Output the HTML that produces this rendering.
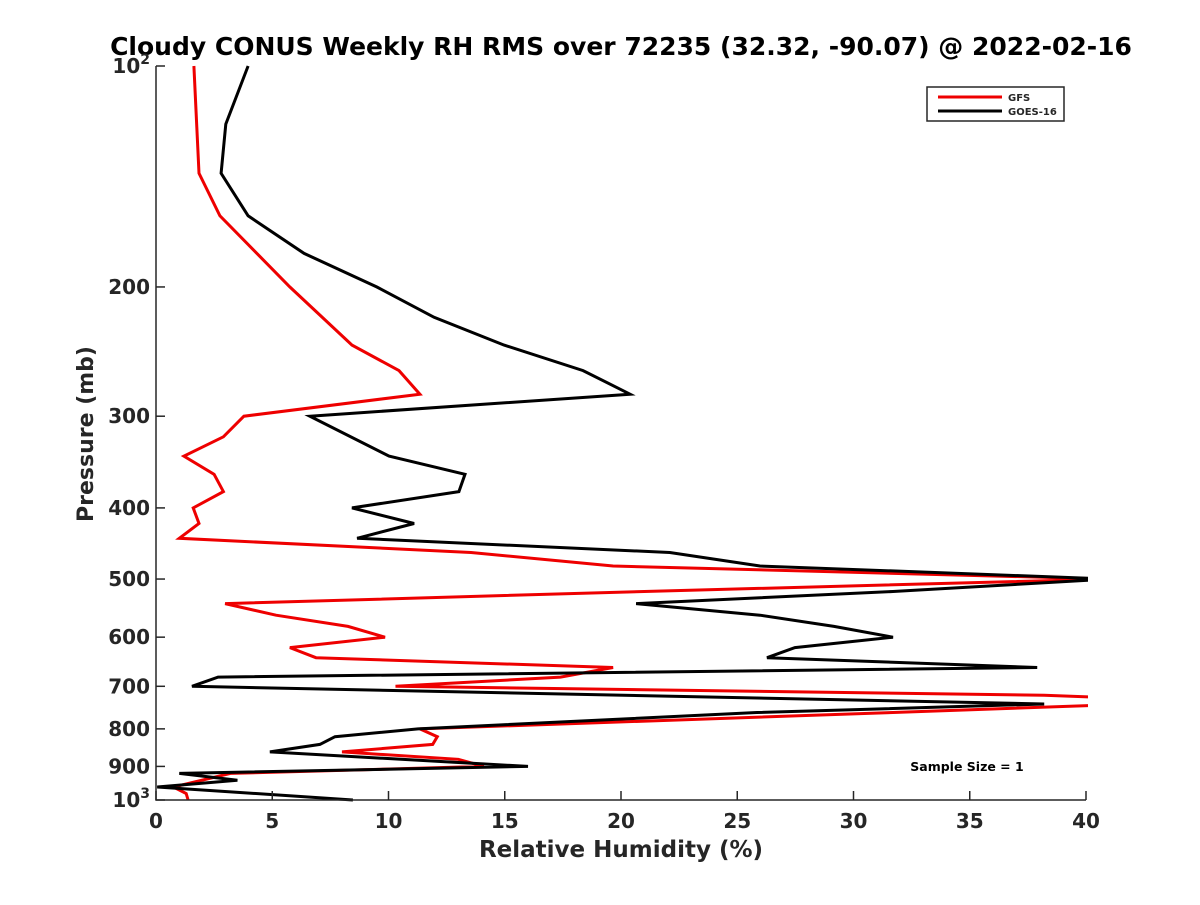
<!DOCTYPE html>
<html><head><meta charset="utf-8"><style>
body{margin:0;background:#fff;}
svg text{font-family:"DejaVu Sans","Liberation Sans",sans-serif;font-weight:bold;fill:#262626;}
</style></head><body>
<svg id="chart" width="1200" height="900" xmlns="http://www.w3.org/2000/svg">
<rect width="1200" height="900" fill="#fff"/>
<text x="621" y="55" font-size="25" text-anchor="middle" fill="#000" style="fill:#000">Cloudy CONUS Weekly RH RMS over 72235 (32.32, -90.07) @ 2022-02-16</text>
<g id="plot"></g>
<text x="621" y="857" font-size="23" text-anchor="middle">Relative Humidity (%)</text>
<text transform="translate(93,434) rotate(-90)" font-size="22" text-anchor="middle">Pressure (mb)</text>
<g>
<rect x="927" y="87" width="137" height="34" fill="#fff" stroke="#262626" stroke-width="1.5"/>
<line x1="938" y1="97" x2="1002" y2="97" stroke="#e00" stroke-width="3"/>
<text x="1008" y="101" font-size="10">GFS</text>
<line x1="938" y1="111" x2="1002" y2="111" stroke="#000" stroke-width="3"/>
<text x="1008" y="115" font-size="10">GOES-16</text>
</g>
<text x="967" y="771" font-size="12.5" text-anchor="middle" style="fill:#000">Sample Size = 1</text>
</svg>
<script>
const xTicks=[0,5,10,15,20,25,30,35,40];
const yTicks=[100,200,300,400,500,600,700,800,900,1000];
const goesP=[100,120,140,160,180,200,220,240,260,280,300,340,360,380,400,420,440,460,480,500,520,540,560,580,600,620,640,660,680,700,740,760,800,820,840,860,900,920,940,960,1000];
const goesV=[3.96,3.0,2.8,3.96,6.37,9.5,11.96,14.97,18.37,20.39,6.62,10.02,13.29,13.03,8.43,11.1,8.65,22.1,25.98,41,31.7,20.65,25.98,29.16,31.7,27.48,26.28,37.9,2.67,1.55,38.2,25.85,11.27,7.7,7.05,4.9,16.0,1.0,3.5,0.05,8.47];
const gfsP=[100,140,160,200,240,260,280,300,320,340,360,380,400,420,440,460,480,500,520,540,560,580,600,620,640,660,680,700,720,727,742,760,800,820,840,860,880,900,920,960,980,1000];
const gfsV=[1.63,1.85,2.75,5.76,8.43,10.45,11.35,3.78,2.9,1.2,2.5,2.9,1.6,1.85,1.0,13.55,19.66,41,21,2.97,5.16,8.26,9.85,5.76,6.88,19.66,17.4,10.3,38.2,42,41,31.7,11.35,12.1,11.9,8.0,13.0,14.1,3.2,0.75,1.3,1.38];
const X0=156,X1=1086,Y0=66,Y1=800;
const sx=v=>X0+(v/40)*(X1-X0);
const sy=p=>Y0+Math.log10(p/100)*(Y1-Y0);
const NS="http://www.w3.org/2000/svg";
const g=document.getElementById('plot');
function mk(t,a){const e=document.createElementNS(NS,t);for(const k in a)e.setAttribute(k,a[k]);g.appendChild(e);return e;}
const clip=document.createElementNS(NS,'clipPath');clip.setAttribute('id','cp');
const cr=document.createElementNS(NS,'rect');cr.setAttribute('x',X0);cr.setAttribute('y',Y0-2);cr.setAttribute('width',X1-X0+2);cr.setAttribute('height',Y1-Y0+4);
clip.appendChild(cr);g.appendChild(clip);
function series(P,V,color,name){
  const d=P.map((p,i)=>(i?'L':'M')+sx(V[i]).toFixed(1)+','+sy(p).toFixed(1)).join('');
  const e=mk('path',{d:d,fill:'none',stroke:color,'stroke-width':3,'clip-path':'url(#cp)','stroke-linejoin':'miter'});
  
  
}
series(gfsP,gfsV,'#e00','gfs-line');
series(goesP,goesV,'#000','goes16-line');
const ax=mk('path',{d:`M${X0},${Y0}V${Y1}H${X1}`,fill:'none',stroke:'#262626','stroke-width':1.5});


xTicks.forEach(v=>{
  const x=sx(v);
  const l=mk('line',{x1:x,y1:Y1,x2:x,y2:Y1-9,stroke:'#262626','stroke-width':1.5});
  
  
  const t=mk('text',{x:x,y:Y1+28,'font-size':20,'text-anchor':'middle'});
  t.textContent=v;
  
  
});
yTicks.forEach(p=>{
  const y=sy(p);
  const l=mk('line',{x1:X0,y1:y,x2:X0+9,y2:y,stroke:'#262626','stroke-width':1.5});
  
  
  const t=mk('text',{x:X0-6,y:y+7,'font-size':20,'text-anchor':'end'});
  if(p===100){t.innerHTML='10<tspan dy="-9" font-size="14">2</tspan>';}
  else if(p===1000){t.innerHTML='10<tspan dy="-9" font-size="14">3</tspan>';}
  else t.textContent=p;
  
  
});
</script>
</body></html>
